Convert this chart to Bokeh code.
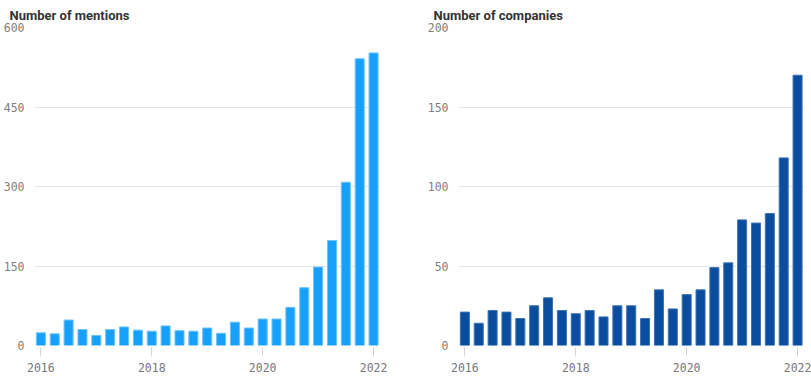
from bokeh.plotting import figure
from bokeh.layouts import row
from bokeh.models import FixedTicker, ColumnDataSource
from bokeh.embed import file_html
from bokeh.resources import INLINE

# Quarterly periods, 2016 Q1 .. 2022 Q1
years = [2016, 2017, 2018, 2019, 2020, 2021, 2022]
quarters = ["Q1", "Q2", "Q3", "Q4"]
periods = [f"{y} {q}" for y in years for q in quarters][:25]

mentions = [24, 22, 48, 30, 19, 30, 35, 29, 27, 37, 28, 27, 33, 23, 44, 33,
            50, 50, 72, 109, 148, 198, 308, 541, 552]
companies = [21, 14, 22, 21, 17, 25, 30, 22, 20, 22, 18, 25, 25, 17, 35, 23,
             32, 35, 49, 52, 79, 77, 83, 118, 170]

x_ticks = [2016, 2018, 2020, 2022]
mention_ticks = [0, 150, 300, 450, 600]
company_ticks = [0, 50, 100, 150, 200]

titles = ["Number of mentions", "Number of companies"]
colors = ["#17a0fb", "#0a4c9d"]
edge_colors = ["#6cc2fc", "#3f73b5"]


def period_to_x(p):
    y, q = p.split(" ")
    return int(y) + (int(q[1]) - 1) * 0.25


xs = [period_to_x(p) for p in periods]

MONO = "DejaVu Sans Mono"


def make_chart(title, values, ticks, color, edge, border_right):
    src = ColumnDataSource(dict(x=xs, top=values, period=periods))
    p = figure(
        frame_width=346, frame_height=318,
        x_range=(2015.885, 2022.125), y_range=(0, ticks[-1]),
        output_backend="svg", toolbar_location=None,
        min_border_left=0, min_border_right=border_right,
        min_border_top=0, min_border_bottom=0,
        outline_line_color=None,
    )
    p.vbar(x="x", top="top", bottom=0, width=0.163, source=src,
           fill_color=color, line_color=edge, line_width=1)

    p.title.text = title
    p.title.text_font = "Roboto"
    p.title.text_font_size = "13px"
    p.title.text_font_style = "bold"
    p.title.text_color = "#333333"
    p.title.align = "left"
    p.title.offset = -25
    p.title.standoff = 10

    p.xgrid.grid_line_color = None
    p.ygrid.grid_line_color = "#e6e6e6"
    p.ygrid.grid_line_width = 1
    p.ygrid.ticker = FixedTicker(ticks=ticks)

    p.yaxis.ticker = FixedTicker(ticks=ticks)
    p.yaxis.axis_line_color = None
    p.yaxis.major_tick_line_color = None
    p.yaxis.minor_tick_line_color = None
    p.yaxis.major_label_standoff = 4
    p.yaxis.major_label_text_font = MONO
    p.yaxis.major_label_text_font_size = "11.5px"
    p.yaxis.major_label_text_color = "#7e7e7e"

    p.xaxis.ticker = FixedTicker(ticks=x_ticks)
    p.xaxis.axis_line_color = None
    p.xaxis.major_tick_line_color = "#d4d4d4"
    p.xaxis.major_tick_in = -2
    p.xaxis.major_tick_out = 11
    p.xaxis.minor_tick_line_color = None
    p.xaxis.major_label_standoff = 6
    p.xaxis.major_label_text_font = MONO
    p.xaxis.major_label_text_font_size = "11.5px"
    p.xaxis.major_label_text_color = "#777777"
    return p


p1 = make_chart(titles[0], mentions, mention_ticks, colors[0], edge_colors[0], 44)
p2 = make_chart(titles[1], companies, company_ticks, colors[1], edge_colors[1], 7)

layout = row(p1, p2)
open("out.html", "w").write(file_html(layout, INLINE))
